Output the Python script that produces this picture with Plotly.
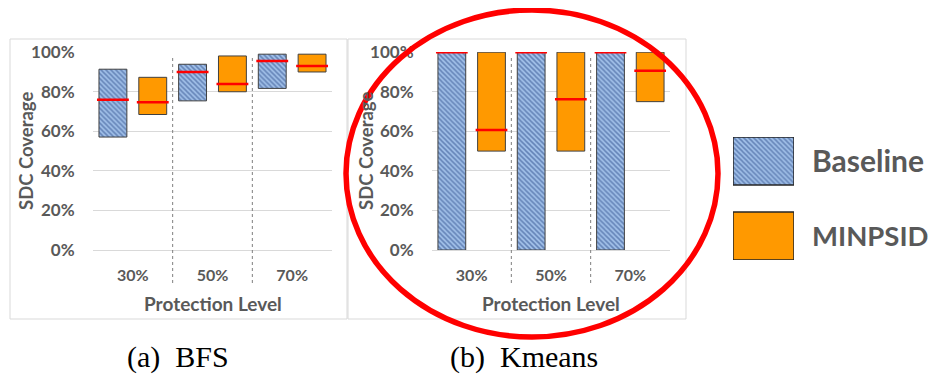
import plotly.graph_objects as go

W, H = 940, 376
OFF = 8  # page body margin shifts the figure by 8px

categories = ["30%", "50%", "70%"]
series = ["Baseline", "MINPSID"]

# BFS panel (a)
bfs_baseline_low = [0.571, 0.754, 0.817]
bfs_baseline_high = [0.914, 0.939, 0.990]
bfs_baseline_median = [0.759, 0.900, 0.956]
bfs_minpsid_low = [0.685, 0.800, 0.900]
bfs_minpsid_high = [0.873, 0.981, 0.990]
bfs_minpsid_median = [0.747, 0.839, 0.930]

# Kmeans panel (b)
km_baseline_low = [0.0, 0.0, 0.0]
km_baseline_high = [1.0, 1.0, 1.0]
km_baseline_median = [1.0, 1.0, 1.0]
km_minpsid_low = [0.50, 0.50, 0.75]
km_minpsid_high = [1.0, 1.0, 1.0]
km_minpsid_median = [0.607, 0.762, 0.906]

captions = ["(a)\u00a0\u00a0BFS", "(b)\u00a0\u00a0Kmeans"]
y_title = "SDC Coverage"
x_title = "Protection Level"

GRAY = "#595959"
BLUE_BG = "#a0bfe8"
BLUE_FG = "#2a4a88"
ORANGE = "#ff9900"
EDGE = "#404040"
FONT = "Lato"


def px(x):
    return (x - OFF) / W


def py(y):
    return (H - (y - OFF)) / H


fig = go.Figure()

panels = [
    dict(xa="x", ya="y", data=[(bfs_baseline_low, bfs_baseline_high, bfs_baseline_median),
                               (bfs_minpsid_low, bfs_minpsid_high, bfs_minpsid_median)]),
    dict(xa="x2", ya="y2", data=[(km_baseline_low, km_baseline_high, km_baseline_median),
                                 (km_minpsid_low, km_minpsid_high, km_minpsid_median)]),
]

offsets = [-0.25, 0.25]
bar_w = 0.35
med_half = 0.2

hatch = dict(shape="\\", fgcolor=BLUE_FG, bgcolor=BLUE_BG, size=3.5, solidity=0.45)

for p in panels:
    for s, (low, high, med) in enumerate(p["data"]):
        xs = [i + offsets[s] for i in range(len(categories))]
        if s == 0:
            marker = dict(color=BLUE_BG, line=dict(color=EDGE, width=1), pattern=hatch)
        else:
            marker = dict(color=ORANGE, line=dict(color=EDGE, width=1))
        fig.add_trace(go.Bar(
            x=xs, y=[h - l for h, l in zip(high, low)], base=low, width=bar_w,
            marker=marker, name=series[s], showlegend=False,
            xaxis=p["xa"], yaxis=p["ya"]))
    for s, (low, high, med) in enumerate(p["data"]):
        mx, my = [], []
        for i, m in enumerate(med):
            c = i + offsets[s]
            mx += [c - med_half, c + med_half, None]
            my += [m, m, None]
        fig.add_trace(go.Scatter(x=mx, y=my, mode="lines", line=dict(color="#ff0000", width=2.5),
                                 showlegend=False, hoverinfo="skip", cliponaxis=False,
                                 xaxis=p["xa"], yaxis=p["ya"]))

# legend boxes (own small axis)
fig.add_trace(go.Bar(x=[1], y=[1], base=[0], orientation="h", width=0.64,
                     marker=dict(color=BLUE_BG, line=dict(color="#262626", width=1.5), pattern=hatch),
                     showlegend=False, xaxis="x3", yaxis="y3"))
fig.add_trace(go.Bar(x=[1], y=[0], base=[0], orientation="h", width=0.64,
                     marker=dict(color=ORANGE, line=dict(color="#262626", width=1.5)),
                     showlegend=False, xaxis="x3", yaxis="y3"))

ydom = [py(250), py(52)]
xdoms = [[px(93), px(332)], [px(432), px(670)]]

common_y = dict(range=[0, 1.001], tickvals=[0, 0.2, 0.4, 0.6, 0.8, 1.0], tickformat=".0%",
                showgrid=True, gridcolor="#d9d9d9", gridwidth=1, zeroline=True,
                zerolinecolor="#d9d9d9", zerolinewidth=1, showline=False, automargin=False,
                ticks="outside", ticklen=14, tickcolor="rgba(0,0,0,0)",
                tickfont=dict(family=FONT, size=17, color=GRAY, weight="bold"),
                domain=ydom, fixedrange=True)
common_x = dict(range=[-0.5, 2.5], tickvals=list(range(len(categories))), ticktext=categories,
                showgrid=False, zeroline=False, showline=False, automargin=False,
                ticks="outside", ticklen=11, tickcolor="rgba(0,0,0,0)",
                tickfont=dict(family=FONT, size=16, color=GRAY, weight="bold"))

fig.update_layout(
    width=W, height=H, margin=dict(l=0, r=0, t=0, b=0, autoexpand=False),
    paper_bgcolor="white", plot_bgcolor="white", showlegend=False,
    barmode="overlay",
    xaxis=dict(common_x, domain=xdoms[0], anchor="y"),
    yaxis=dict(common_y, anchor="x"),
    xaxis2=dict(common_x, domain=xdoms[1], anchor="y2"),
    yaxis2=dict(common_y, anchor="x2"),
    xaxis3=dict(domain=[px(733), px(794)], range=[0, 1], visible=False, anchor="y3", automargin=False),
    yaxis3=dict(domain=[py(260), py(137)], range=[-0.32, 1.32], visible=False, anchor="x3", automargin=False),
)

shapes = []
# panel borders
for x0, x1 in [(10, 347), (348, 686)]:
    shapes.append(dict(type="rect", xref="paper", yref="paper", x0=px(x0), x1=px(x1),
                       y0=py(319), y1=py(39), line=dict(color="#d9d9d9", width=1)))
# category separators
for xa in ["x", "x2"]:
    for b in [0.5, 1.5]:
        shapes.append(dict(type="line", xref=xa, yref="paper", x0=b, x1=b,
                           y0=py(283), y1=py(55), line=dict(color="#7f7f7f", width=1, dash="dot")))
# red ellipse
shapes.append(dict(type="circle", xref="paper", yref="paper", x0=px(346), x1=px(718),
                   y0=py(337), y1=py(10), line=dict(color="#ff0000", width=5.5)))
fig.update_layout(shapes=shapes)

ann = []
for cx, cy in [(26, 151), (366, 151)]:
    ann.append(dict(text=y_title, x=px(cx), y=py(cy), xref="paper", yref="paper", showarrow=False,
                    xanchor="center", yanchor="middle", textangle=-90,
                    font=dict(family=FONT, size=18.5, color=GRAY, weight="bold")))
for cx in [(93 + 332) / 2, (432 + 670) / 2]:
    ann.append(dict(text=x_title, x=px(cx), y=py(303), xref="paper", yref="paper", showarrow=False,
                    xanchor="center", yanchor="middle",
                    font=dict(family=FONT, size=19, color=GRAY, weight="bold")))
for t, cx in zip(captions, [178, 524]):
    ann.append(dict(text=t, x=px(cx), y=py(357), xref="paper", yref="paper", showarrow=False,
                    xanchor="center", yanchor="middle",
                    font=dict(family="Liberation Serif", size=30, color="black")))
for t, cy, fs in zip(series, [160, 235], [30, 27.5]):
    ann.append(dict(text=t, x=px(810), y=py(cy), xref="paper", yref="paper", showarrow=False,
                    xanchor="left", yanchor="middle",
                    font=dict(family=FONT, size=fs, color=GRAY, weight="bold")))
fig.update_layout(annotations=ann)

fig.write_html("out.html")
